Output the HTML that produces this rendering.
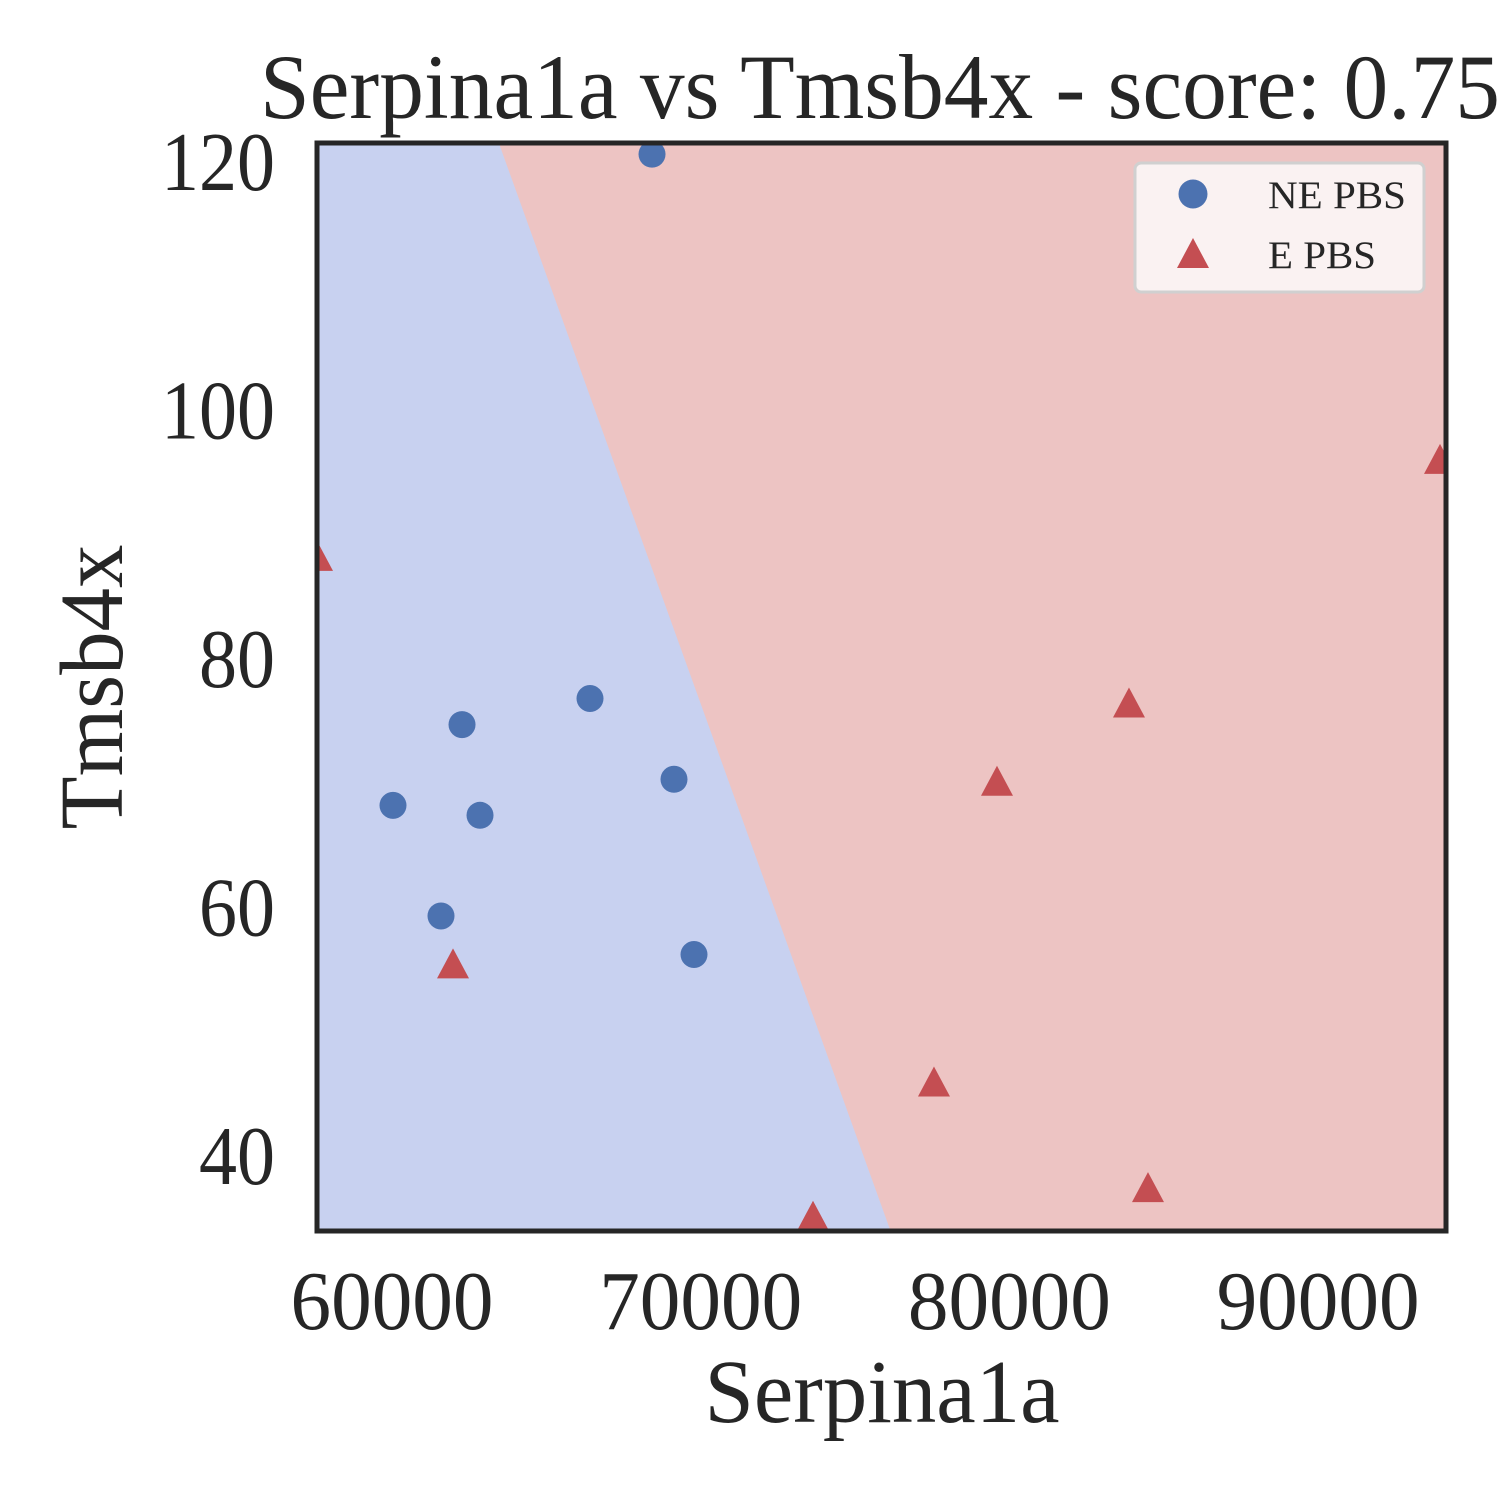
<!DOCTYPE html>
<html><head><meta charset="utf-8"><style>
html,body{margin:0;padding:0;background:#fff;}
svg{display:block;font-family:"Liberation Serif",serif;}
</style></head><body>
<svg id="chart" width="1500" height="1500" viewBox="0 0 1500 1500">
<defs><clipPath id="clip"><rect x="317" y="143" width="1129" height="1088"/></clipPath></defs>
<g id="plot" clip-path="url(#clip)"></g>
<g id="axes"></g>
</svg>
<script>
const neX = [68423, 66414, 62268, 60032, 62851, 69135, 61587, 69783];
const neY = [120.7, 76.9, 74.8, 68.3, 67.5, 70.4, 59.4, 56.3];
const eX = [57570, 93950, 83874, 79598, 61976, 77557, 84490, 73638];
const eY = [88.3, 96.1, 76.5, 70.2, 55.5, 46.0, 37.5, 35.2];
const boundaryX = [63460, 76150];
const boundaryY = [121.6, 34.05];
const xTicks = [60000, 70000, 80000, 90000];
const yTicks = [40, 60, 80, 100, 120];
const xMin = 57570, xMax = 94144, yMin = 34.05, yMax = 121.6;

const L=317,R=1446,T=143,B=1231;
function sx(v){return L+(v-xMin)/(xMax-xMin)*(R-L);}
function sy(v){return B-(v-yMin)/(yMax-yMin)*(B-T);}
const NS="http://www.w3.org/2000/svg";
function mk(tag,attrs,parent,text){const e=document.createElementNS(NS,tag);for(const k in attrs)e.setAttribute(k,attrs[k]);if(text!==undefined)e.textContent=text;parent.appendChild(e);return e;}
const plot=document.getElementById('plot'), axes=document.getElementById('axes');

let bg=mk('rect',{x:L,y:T,width:R-L,height:B-T,fill:'#edc4c3'},plot);


const bx0=sx(boundaryX[0]),by0=sy(boundaryY[0]),bx1=sx(boundaryX[1]),by1=sy(boundaryY[1]);
let blue=mk('polygon',{points:`${L},${T-10} ${bx0},${by0} ${bx1},${by1} ${L},${B+10}`,fill:'#c8d1f0'},plot);



for(let i=0;i<neX.length;i++){
  let c=mk('circle',{cx:sx(neX[i]),cy:sy(neY[i]),r:13.5,fill:'#4c72b0'},plot);
  
  
}
for(let i=0;i<eX.length;i++){
  const x=sx(eX[i]),y=sy(eY[i]);
  let p=mk('polygon',{points:`${x},${y-16} ${x+16},${y+14} ${x-16},${y+14}`,fill:'#c44e52'},plot);
  
  
}

let frame=mk('rect',{x:L,y:T,width:R-L,height:B-T,fill:'none',stroke:'#262626',"stroke-width":5},axes);



for(const t of xTicks){
  let e=mk('text',{x:sx(t),y:1329,"font-size":84,fill:'#262626',"text-anchor":'middle',textLength:203,lengthAdjust:'spacingAndGlyphs'},axes,String(t));
  
  
}
for(const t of yTicks){
  const s=String(t);
  let e=mk('text',{x:275,y:sy(t)+27,"font-size":84,fill:'#262626',"text-anchor":'end',textLength:s.length*38,lengthAdjust:'spacingAndGlyphs'},axes,s);
  
  
}
let xt=mk('text',{x:882,y:1422,"font-size":90,fill:'#262626',"text-anchor":'middle',textLength:355,lengthAdjust:'spacingAndGlyphs'},axes,'Serpina1a');


let yt=mk('text',{x:0,y:0,"font-size":90,fill:'#262626',"text-anchor":'middle',textLength:285,lengthAdjust:'spacingAndGlyphs',transform:'translate(122,687) rotate(-90)'},axes,'Tmsb4x');


let title=mk('text',{x:880,y:118,"font-size":92,fill:'#262626',"text-anchor":'middle',textLength:1240,lengthAdjust:'spacingAndGlyphs'},axes,'Serpina1a vs Tmsb4x - score: 0.75');



let lg=mk('g',{},axes);


mk('rect',{x:1135,y:163,width:289,height:129,rx:6,fill:'#faf2f2',stroke:'#d0d0d0',"stroke-width":3},lg);
let lc=mk('circle',{cx:1193,cy:194,r:14.5,fill:'#4c72b0'},lg);


let lt=mk('polygon',{points:'1193,238 1209,268 1177,268',fill:'#c44e52'},lg);


let l1=mk('text',{x:1268,y:208,"font-size":39,fill:'#262626',textLength:138,lengthAdjust:'spacingAndGlyphs'},lg,'NE PBS');


let l2=mk('text',{x:1268,y:268,"font-size":39,fill:'#262626',textLength:108,lengthAdjust:'spacingAndGlyphs'},lg,'E PBS');


</script>
</body></html>
